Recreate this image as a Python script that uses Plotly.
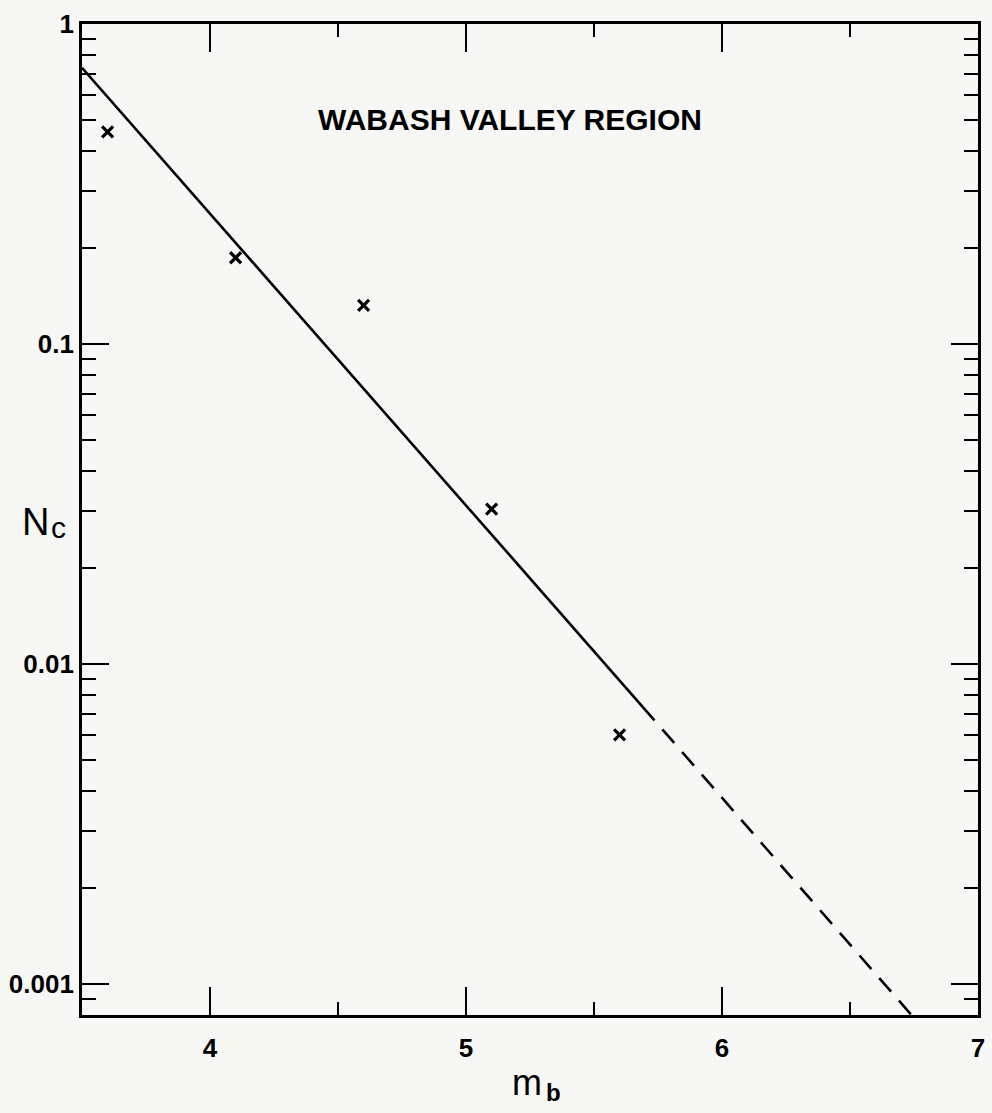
import plotly.graph_objects as go

# Data
mb_points = [3.6, 4.1, 4.6, 5.1, 5.6]
nc_points = [0.46, 0.186, 0.132, 0.0305, 0.0060]

fit_solid_mb = [3.5, 5.69]
fit_solid_nc = [0.73, 0.00735]
fit_dash_mb = [5.69, 6.74]
fit_dash_nc = [0.00735, 0.0008]

x_major = [4, 5, 6, 7]
x_major_text = ["4", "5", "6", "7"]
x_minor = [4.5, 5.5, 6.5]
y_major = [0.001, 0.01, 0.1, 1]
y_major_text = ["0.001", "0.01", "0.1", "1"]
y_minor = [m * 10 ** e for e in (-4, -3, -2, -1) for m in range(2, 10) if 0.00079 < m * 10 ** e < 1]

title_text = "WABASH VALLEY REGION"

FONT = "Liberation Sans"
BG = "#f7f7f5"

# plot area in pixels (for placing free text)
L, R, T, B = 82, 978, 24, 1015


def px(xp):
    return (xp - L) / (R - L)


def py(yp):
    return 1 - (yp - T) / (B - T)


fig = go.Figure()
fig.add_trace(go.Scatter(x=fit_solid_mb, y=fit_solid_nc, mode="lines",
                         line=dict(color="black", width=2.6), showlegend=False))
fig.add_trace(go.Scatter(x=fit_dash_mb, y=fit_dash_nc, mode="lines",
                         line=dict(color="black", width=2.6, dash="18px,12px"), showlegend=False))
fig.add_trace(go.Scatter(x=mb_points, y=nc_points, mode="markers",
                         marker=dict(symbol="x-thin", size=11, line=dict(color="black", width=3.2)),
                         showlegend=False))

tickfont = dict(family=FONT, size=26, color="black", weight="bold")

fig.update_xaxes(range=[3.5, 7], showline=True, linecolor="black", linewidth=2.8, mirror="ticks",
                 showgrid=False, zeroline=False, ticks="inside", ticklen=28, tickwidth=2.2,
                 tickcolor="black", tickmode="array", tickvals=x_major, ticktext=x_major_text,
                 tickfont=tickfont, ticklabelstandoff=8, automargin=False,
                 minor=dict(ticks="inside", ticklen=13, tickwidth=2.2, tickcolor="black",
                            tickmode="array", tickvals=x_minor, showgrid=False))
fig.update_yaxes(type="log", range=[-3.0969, 0], showline=True, linecolor="black", linewidth=2.8,
                 mirror="ticks", showgrid=False, zeroline=False, ticks="inside", ticklen=27,
                 tickwidth=2.2, tickcolor="black", tickmode="array", tickvals=y_major,
                 ticktext=y_major_text, tickfont=tickfont, automargin=False,
                 minor=dict(ticks="inside", ticklen=14, tickwidth=2.2, tickcolor="black",
                            tickmode="array", tickvals=y_minor, showgrid=False))


def label(text, xpix, ypix, size, bold=False):
    f = dict(family=FONT, size=size, color="black")
    if bold:
        f["weight"] = "bold"
    fig.add_annotation(text=text, xref="paper", yref="paper", x=px(xpix), y=py(ypix),
                       xanchor="center", yanchor="middle", showarrow=False, font=f)


label(title_text, 510, 119, 30, bold=True)
# axis titles (N_c, m_b)
label("N", 35, 522, 38)
label("c", 58, 527, 30)
label("m", 527, 1082, 36)
label("b", 553, 1092, 24, bold=True)

fig.update_layout(width=992, height=1113, margin=dict(l=L, r=992 - R, t=T, b=1113 - B, autoexpand=False),
                  paper_bgcolor=BG, plot_bgcolor=BG, showlegend=False)

fig.write_html("out.html")
